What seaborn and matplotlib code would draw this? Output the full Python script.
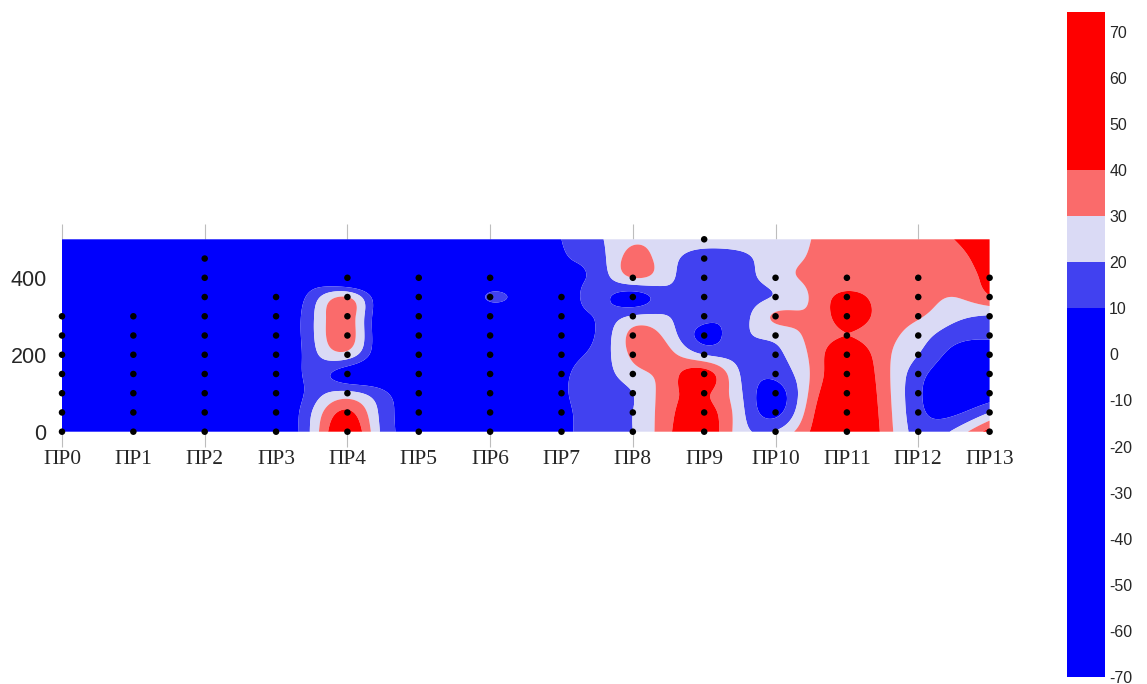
import numpy as np
import pandas as pd
import matplotlib
matplotlib.use("Agg")
import matplotlib.pyplot as plt
import seaborn as sns

# ---------------- data ----------------
profile_labels = ["ПР0", "ПР1", "ПР2", "ПР3", "ПР4", "ПР5", "ПР6", "ПР7",
                  "ПР8", "ПР9", "ПР10", "ПР11", "ПР12", "ПР13"]
profile_max_depth = [300, 300, 450, 350, 400, 400, 400, 350, 400, 500, 400, 400, 400, 400]
depth_step = 50

# field grid: columns at every half profile (0, 0.5, ... 13), depths 0..500 step 50
grid_x = [i * 0.5 for i in range(27)]
grid_depth = [0, 50, 100, 150, 200, 250, 300, 350, 400, 450, 500]
# each column: values from depth 0 up to depth 500
col_00 = [-12, -12, -13, -14, -14, -13, -12, -11, -10, -10, -10]
col_05 = [-14, -15, -16, -16, -15, -14, -13, -12, -11, -10, -10]
col_10 = [-16, -17, -18, -18, -17, -16, -15, -14, -12, -11, -10]
col_15 = [-15, -16, -17, -18, -18, -17, -16, -14, -12, -10, -9]
col_20 = [-13, -14, -15, -16, -17, -17, -16, -14, -12, -10, -8]
col_25 = [-10, -11, -12, -13, -14, -14, -13, -12, -10, -8, -7]
col_30 = [-3, -3, -4, -5, -4, -3, -3, -3, -5, -6, -6]
col_35 = [22, 20, 14, 13, 16, 18, 18, 14, 2, -4, -6]
col_40 = [50, 42, 23, 4, 26, 36, 36, 30, -8, -8, -8]
col_45 = [17, 16, 12, 0, -1, -2, -2, -1, -8, -10, -10]
col_50 = [6, 4, 0, -6, -8, -9, -9, -9, -10, -11, -12]
col_55 = [-4, -6, -8, -10, -11, -12, -12, -12, -12, -12, -12]
col_60 = [-8, -9, -10, -10, -10, -9, -6, 12, -6, -10, -11]
col_65 = [-4, -5, -6, -6, -6, -5, -4, 2, -3, -2, -1]
col_70 = [7, 7, 8, 8, 7, 6, 5, 3, 7, 9, 10]
col_75 = [14, 14, 14, 14, 13, 11, 11, 13, 13, 15, 18]
col_80 = [20, 20, 20, 26, 32, 33, 21, 5, 30, 34, 28]
col_85 = [38, 37, 36, 35, 33, 26, 20, 17, 22, 23, 25]
col_90 = [48, 45, 42, 45, 20, 7, 13, 14, 15, 18, 22]
col_95 = [25, 24, 22, 20, 17, 17, 15, 15, 16, 18, 24]
col_100 = [21, 7, 5, 13, 18, 23, 31.5, 21, 25, 25, 25]
col_105 = [41, 37, 33, 31, 32, 33, 32, 31, 32, 31, 30]
col_110 = [55, 54, 52, 50, 48, 40, 45, 43, 34, 35, 35]
col_115 = [38, 37, 36, 35, 34, 34, 36, 36, 35, 35, 35]
col_120 = [16, 13, 12, 14, 20, 25, 31, 34, 35, 35, 36]
col_125 = [22, 8, 2, 3, 7, 14, 23, 30, 35, 37, 40]
col_130 = [45, 20, 4, 2, 6, 11, 19, 39, 43, 45, 48]
field_columns = [col_00, col_05, col_10, col_15, col_20, col_25, col_30, col_35,
                 col_40, col_45, col_50, col_55, col_60, col_65, col_70, col_75,
                 col_80, col_85, col_90, col_95, col_100, col_105, col_110,
                 col_115, col_120, col_125, col_130]

level_bounds = [-70, 10, 20, 30, 40, 74.3]
level_colors = ["#0000fd", "#4141f0", "#dadaf5", "#fa6b6b", "#fe0000"]
cbar_ticks = list(range(-70, 71, 10))


def spline_matrix(knots, fine):
    """Natural cubic spline interpolation as a (len(fine) x len(knots)) matrix."""
    knots = np.asarray(knots, float)
    n = len(knots)
    h = knots[1] - knots[0]
    Y = np.eye(n)
    A = np.zeros((n - 2, n - 2))
    for i in range(n - 2):
        A[i, i] = 4.0
        if i > 0:
            A[i, i - 1] = 1.0
        if i < n - 3:
            A[i, i + 1] = 1.0
    rhs = 6.0 / h ** 2 * (Y[:-2] - 2 * Y[1:-1] + Y[2:])
    M = np.zeros((n, n))
    M[1:-1] = np.linalg.solve(A, rhs)
    idx = np.clip(((fine - knots[0]) // h).astype(int), 0, n - 2)
    t0 = knots[idx]
    Bw = (fine - t0) / h
    Aw = 1.0 - Bw
    R = (Aw[:, None] * Y[idx] + Bw[:, None] * Y[idx + 1]
         + ((Aw ** 3 - Aw)[:, None] * M[idx] + (Bw ** 3 - Bw)[:, None] * M[idx + 1]) * h ** 2 / 6.0)
    return R


# ---------------- figure ----------------
sns.set_style("white")
plt.rcParams["font.family"] = ["Liberation Sans", "DejaVu Sans"]

W, H = 1147, 684
fig = plt.figure(figsize=(W / 100, H / 100), dpi=100)
ax = fig.add_axes([62 / W, 1 - 431.7 / H, 927.6 / W, 192.4 / H])
cax = fig.add_axes([1066.7 / W, 1 - 677 / H, 38.3 / W, 665 / H])

Z = np.array(field_columns, dtype=float).T  # rows = depth, cols = x
xi = np.linspace(0, 13, 651)
di = np.linspace(0, 500, 251)
Rx = spline_matrix(grid_x, xi)
Ry = spline_matrix(grid_depth, di)
ZI = Ry @ Z @ Rx.T
ZI = np.clip(ZI, -69.9, 74.0)

cs = ax.contourf(xi, di, ZI, levels=level_bounds, colors=level_colors,
                 antialiased=True)

# measurement points
pts_x, pts_d = [], []
for k, md in enumerate(profile_max_depth):
    for dd in range(0, md + 1, depth_step):
        pts_x.append(k)
        pts_d.append(dd)
pts = pd.DataFrame({"x": pts_x, "d": pts_d})
sns.scatterplot(data=pts, x="x", y="d", color="black", s=22, edgecolor="none",
                ax=ax, legend=False, clip_on=False, zorder=5)

ax.set_xlim(0, 13)
ax.set_ylim(0, 500)
for s in ax.spines.values():
    s.set_visible(False)
ax.set_xlabel("")
ax.set_ylabel("")
ax.xaxis.remove_overlapping_locs = False
ax.set_xticks(range(14))
ax.set_xticklabels(profile_labels, fontfamily=["Liberation Serif", "DejaVu Serif"],
                   fontsize=15.5)
ax.set_xticks(range(0, 14, 2), minor=True)
ax.tick_params(axis="x", which="major", length=0, pad=13)
ax.tick_params(axis="x", which="minor", length=10.5, width=0.8, color="#bdbdbd",
               direction="out", top=True, bottom=True)
ax.set_yticks([0, 200, 400])
ax.set_yticklabels(["0", "200", "400"], fontsize=15.5)
ax.tick_params(axis="y", which="both", length=0, pad=11)
ax.grid(False)

cbar = fig.colorbar(cs, cax=cax, spacing="proportional", ticks=cbar_ticks)
cbar.outline.set_visible(False)
cax.tick_params(length=0, labelsize=11.5, pad=3)
cax.set_yticklabels([str(t) for t in cbar_ticks])

fig.savefig("out.png", dpi=100)
